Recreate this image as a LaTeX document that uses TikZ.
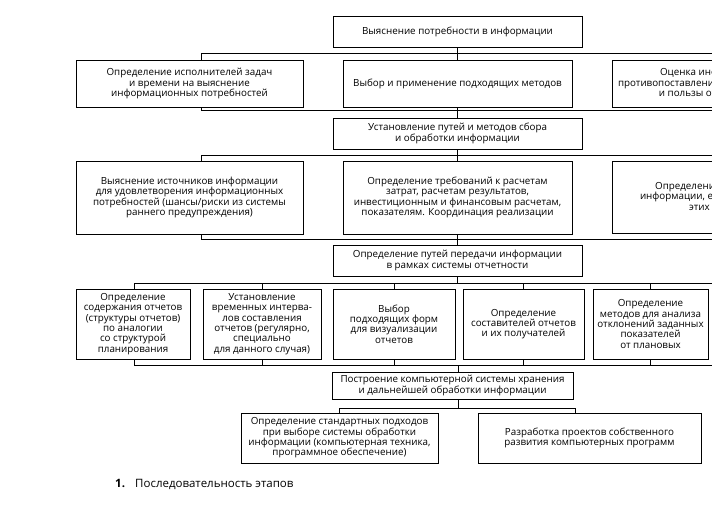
\documentclass[tikz,border=0pt]{standalone}
\usepackage{fontspec}
\setmainfont{Open Sans}
\begin{document}
\begin{tikzpicture}[x=1pt,y=-1pt,
  box/.style={draw, line width=1pt, align=center, inner sep=1pt, fill=white,
    font=\fontsize{9.8}{10.3}\selectfont, anchor=center},
  conn/.style={line width=1pt}]
\useasboundingbox (0,0) rectangle (712,514);
\clip (0,0) rectangle (712,514);
% row 1
\node[box, minimum width=249pt, minimum height=31pt] (top) at (457.5,32) {Выяснение потребности в информации};
% row 2
\node[box, minimum width=227pt, minimum height=47pt] (r2a) at (189.5,83.5) {Определение исполнителей задач\\и времени на выяснение\\информационных потребностей};
\node[box, minimum width=229pt, minimum height=47pt] (r2b) at (457.5,83.5) {Выбор и применение подходящих методов};
\node[box, minimum width=228pt, minimum height=47pt] (r2c) at (726,83.5) {Оценка информации путем\\противопоставления затрат на информацию\\и пользы от ее применения};
% row 3
\node[box, minimum width=249pt, minimum height=31pt] (r3) at (457.5,133.5) {Установление путей и методов сбора\\и обработки информации};
% row 4
\node[box, minimum width=227pt, minimum height=73pt] (r4a) at (189.5,197.5) {Выяснение источников информации\\для удовлетворения информационных\\потребностей (шансы/риски из системы\\раннего предупреждения)};
\node[box, minimum width=229pt, minimum height=73pt] (r4b) at (457.5,197.5) {Определение требований к расчетам\\затрат, расчетам результатов,\\инвестиционным и финансовым расчетам,\\показателям. Координация реализации};
\node[box, minimum width=228pt, minimum height=72pt] (r4c) at (726,197.5) {Определение использования\\информации, ее оценки и контроля\\этих процессов};
% row 5
\node[box, minimum width=249pt, minimum height=31pt] (r5) at (457.5,260.5) {Определение путей передачи информации\\в рамках системы отчетности};
% row 6
\node[box, minimum width=114pt, minimum height=70pt] (r6a) at (133,324) {Определение\\содержания отчетов\\(структуры отчетов)\\по аналогии\\со структурой\\планирования};
\node[box, minimum width=118pt, minimum height=70pt] (r6b) at (262,324) {Установление\\временных интерва-\\лов составления\\отчетов (регулярно,\\специально\\для данного случая)};
\node[box, minimum width=122pt, minimum height=70pt] (r6c) at (394,324) {Выбор\\подходящих форм\\для визуализации\\отчетов};
\node[box, minimum width=121pt, minimum height=70pt] (r6d) at (523.5,324) {Определение\\составителей отчетов\\и их получателей};
\node[box, minimum width=115pt, minimum height=70pt] (r6e) at (650.5,324) {Определение\\методов для анализа\\отклонений заданных\\показателей\\от плановых};
% row 7
\node[box, minimum width=241pt, minimum height=27pt] (r7) at (452.5,385.5) {Построение компьютерной системы хранения\\и дальнейшей обработки информации};
% row 8
\node[box, minimum width=197pt, minimum height=50pt] (r8a) at (339.5,438) {Определение стандартных подходов\\при выборе системы обработки\\информации (компьютерная техника,\\программное обеспечение)};
\node[box, minimum width=223pt, minimum height=50pt] (r8b) at (589.5,438) {Разработка проектов собственного\\развития компьютерных программ};
% caption
\node[anchor=base west, inner sep=0pt, font=\fontsize{11.5}{13}\selectfont\bfseries] (capn) at (115,487) {1.};
\node[anchor=base west, inner sep=0pt, font=\fontsize{11.5}{13}\selectfont] (capt) at (135,487) {Последовательность этапов};

% bus coordinates
\coordinate (b1L) at (201,53);  \coordinate (b1R) at (726,53);
\coordinate (b2L) at (201,110); \coordinate (b2R) at (726,110);
\coordinate (b3L) at (201,155); \coordinate (b3R) at (726,155);
\coordinate (b4L) at (201,239); \coordinate (b4R) at (726,239);
\coordinate (b5L) at (134,283); \coordinate (b5R) at (730,283);
\coordinate (b6L) at (134,365); \coordinate (b6R) at (730,365);
\coordinate (b7L) at (339,408); \coordinate (b7R) at (575,408);
\coordinate (c2) at (458,0);

% bus 1
\draw[conn] (top.south) -- (top.south |- b1L);
\draw[conn] (b1L) -- (b1R);
\draw[conn] (b1L) -- (b1L |- r2a.north);
\draw[conn] (r2b.north |- b1L) -- (r2b.north);
\draw[conn] (r2c.north |- b1L) -- (r2c.north);
% bus 2
\draw[conn] (b2L) -- (b2R);
\draw[conn] (b2L |- r2a.south) -- (b2L);
\draw[conn] (r2b.south) -- (r3.north);
\draw[conn] (r2c.south) -- (r2c.south |- b2R);
% bus 3
\draw[conn] (b3L) -- (b3R);
\draw[conn] (r3.south) -- (r4b.north);
\draw[conn] (b3L) -- (b3L |- r4a.north);
\draw[conn] (r4c.north |- b3R) -- (r4c.north);
% bus 4
\draw[conn] (b4L) -- (b4R);
\draw[conn] (b4L |- r4a.south) -- (b4L);
\draw[conn] (r4b.south) -- (r5.north);
\draw[conn] (r4c.south) -- (r4c.south |- b4R);
% bus 5
\draw[conn] (b5L) -- (b5R);
\draw[conn] (r5.south) -- (r5.south |- b5L);
\draw[conn] (b5L) -- (b5L |- r6a.north);
\draw[conn] (r6b.north |- b5L) -- (r6b.north);
\draw[conn] (r6c.north |- b5L) -- (r6c.north);
\draw[conn] (r6d.north |- b5L) -- (r6d.north);
\draw[conn] (r6e.north |- b5L) -- (r6e.north);
% bus 6
\draw[conn] (b6L) -- (b6R);
\draw[conn] (b6L |- r6a.south) -- (b6L);
\draw[conn] (r6b.south) -- (r6b.south |- b6L);
\draw[conn] (r6c.south) -- (r6c.south |- b6L);
\draw[conn] (r6d.south) -- (r6d.south |- b6L);
\draw[conn] (r6e.south) -- (r6e.south |- b6L);
\draw[conn] (c2 |- b6L) -- (c2 |- r7.north);
% bus 7
\draw[conn] (c2 |- r7.south) -- (c2 |- b7L);
\draw[conn] (b7L) -- (b7R);
\draw[conn] (b7L) -- (b7L |- r8a.north);
\draw[conn] (b7R) -- (b7R |- r8b.north);
\end{tikzpicture}
\end{document}
